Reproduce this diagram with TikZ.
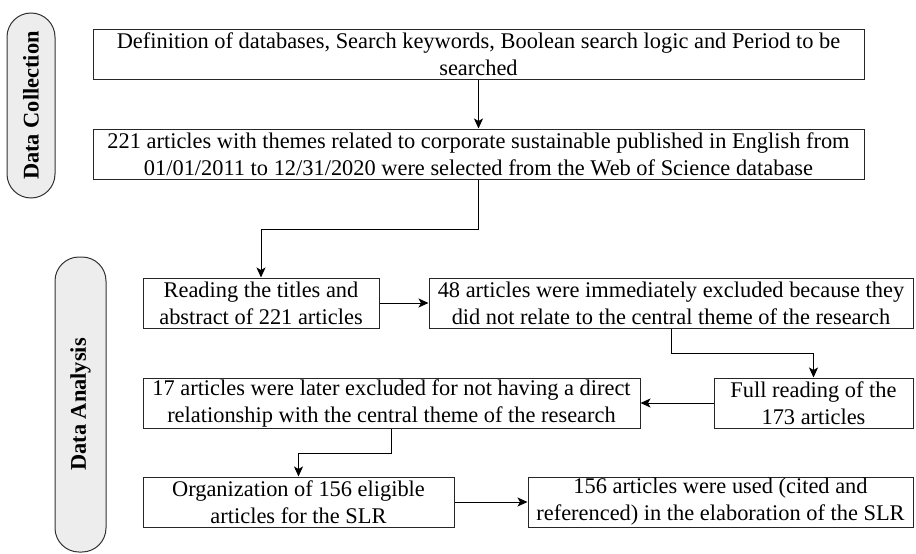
\documentclass[tikz,border=0pt]{standalone}
\usepackage{fontspec}
\setmainfont{Liberation Serif}
\usetikzlibrary{arrows.meta}
\begin{document}
\begin{tikzpicture}[x=1pt,y=-1pt,
  box/.style={draw=black!85, line width=1pt, inner sep=0pt, align=center,
    font=\fontsize{22.4}{27}\selectfont},
  pill/.style={draw=black!80, line width=1pt, fill=black!7, rounded corners=24pt,
    inner sep=0pt, rotate=90, font=\fontsize{22.4}{27}\selectfont\bfseries},
  arr/.style={draw=black, line width=1pt, -{Stealth[length=10pt,width=9pt,inset=2.5pt]}},
  ln/.style={draw=black, line width=1pt}]
\useasboundingbox (0,0) rectangle (916,554);
% phase labels
\node[pill, minimum width=185pt, minimum height=48pt] (pc) at (31,105.5) {Data Collection};
\node[pill, minimum width=295pt, minimum height=51pt] (pa) at (80.5,404.5) {Data Analysis};
% boxes
\node[box, minimum width=771pt, minimum height=50pt] (b1) at (478.5,54)
  {Definition of databases, Search keywords, Boolean search logic and Period to be\\searched};
\node[box, minimum width=771pt, minimum height=50pt] (b2) at (478.5,154)
  {221 articles with themes related to corporate sustainable published in English from\\01/01/2011 to 12/31/2020 were selected from the Web of Science database};
\node[box, minimum width=236pt, minimum height=50pt] (b3) at (261,303)
  {Reading the titles and\\abstract of 221 articles};
\node[box, minimum width=484pt, minimum height=50pt] (b4) at (671,303)
  {48 articles were immediately excluded because they\\did not relate to the central theme of the research};
\node[box, minimum width=199pt, minimum height=50pt] (b5) at (813.5,403)
  {Full reading of the\\173 articles};
\node[box, minimum width=497pt, minimum height=50pt] (b6) at (391.5,403)
  {17 articles were later excluded for not having a direct\\relationship with the central theme of the research};
\node[box, minimum width=311pt, minimum height=50pt] (b7) at (298.5,502)
  {Organization of 156 eligible\\articles for the SLR};
\node[box, minimum width=385pt, minimum height=50pt] (b8) at (720.5,502)
  {156 articles were used (cited and\\referenced) in the elaboration of the SLR};
% bend points
\coordinate (m1) at (478.5,229);
\coordinate (m2) at (671,353);
\coordinate (m3) at (391.5,453);
% connectors
\draw[arr] (b1.south) -- (b2.north);
\draw[arr] (b2.south) -- (m1) -| (b3.north);
\draw[arr] (b3.east) -- (b4.west);
\draw[arr] (b4.south) -- (m2) -| (b5.north);
\draw[arr] (b5.west) -- (b6.east);
\draw[arr] (b6.south) -- (m3) -| (b7.north);
\draw[arr] (b7.east) -- (b8.west);
\end{tikzpicture}
\end{document}
